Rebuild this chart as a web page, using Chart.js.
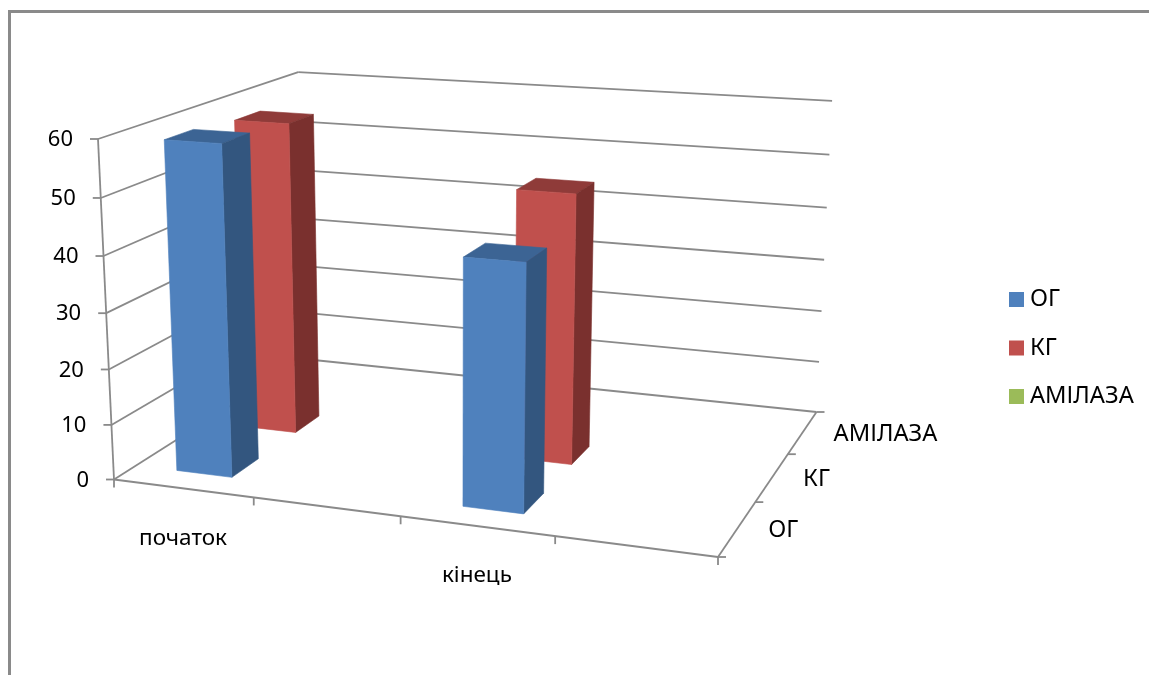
<!DOCTYPE html>
<html><head><meta charset="utf-8">
<style>html,body{margin:0;padding:0;background:#fff;overflow:hidden}canvas{display:block}</style>
<script src="https://cdn.jsdelivr.net/npm/chart.js@4"></script>
</head><body><canvas id="c" width="1149" height="675"></canvas>
<script>
const categories = ["початок", "", "кінець", ""];
const seriesNames = ["ОГ", "КГ", "АМІЛАЗА"];
const ogValues = [59, null, 43, null];
const kgValues = [58, null, 49, null];
const amylaseValues = [null, null, null, null];

const FONT = '"Noto Sans", sans-serif';
const GREY = '#8a8a8a';
const shades = [
  {front:'#4f81bd', side:'#33567f', top:'#3c6494'},
  {front:'#c0504d', side:'#7a302e', top:'#8f3b39'},
  {front:'#9bbb59', side:'#667a39', top:'#7a9343'}
];

/* Screen corners of the 3D box; u runs along categories, d into depth, v up the value axis */
const floorFL=[114,479.5], floorFR=[718,557], floorBR=[816.5,412], floorBL=[304,359];
const topFL=[98,139], topBL=[298.5,72], topBR=[832,101];

function buildProjection(){
  const [x0,y0]=floorFL,[x1,y1]=floorFR,[x2,y2]=floorBR,[x3,y3]=floorBL;
  const dx1=x1-x2,dx2=x3-x2,sx=x0-x1+x2-x3,dy1=y1-y2,dy2=y3-y2,sy=y0-y1+y2-y3;
  const det=dx1*dy2-dx2*dy1;
  const g=(sx*dy2-dx2*sy)/det,h=(dx1*sy-sx*dy1)/det;
  const a1=x1-x0+g*x1,a2=x3-x0+h*x3,a4=x0;
  const b1=y1-y0+g*y1,b2=y3-y0+h*y3,b4=y0;
  const X0=topFL[0],Y0=topFL[1];
  const eqs=[
    [X0-topBL[0], topBL[0]*(h+1)-a2-X0],
    [Y0-topBL[1], topBL[1]*(h+1)-b2-Y0],
    [X0-topBR[0], topBR[0]*(g+h+1)-a1-a2-X0],
    [Y0-topBR[1], topBR[1]*(g+h+1)-b1-b2-Y0]
  ];
  let n=0,m=0; eqs.forEach(e=>{n+=e[0]*e[1];m+=e[0]*e[0];});
  const i=n/m, a3=X0*(1+i)-a4, b3=Y0*(1+i)-b4;
  return (u,d,v)=>{const w=g*u+h*d+i*v+1;
    return [(a1*u+a2*d+a3*v+a4)/w,(b1*u+b2*d+b3*v+b4)/w];};
}
const project=buildProjection();

function poly(ctx,pts,fill){
  ctx.beginPath();pts.forEach((p,i)=>i?ctx.lineTo(p[0],p[1]):ctx.moveTo(p[0],p[1]));ctx.closePath();
  ctx.fillStyle=fill;ctx.fill();ctx.strokeStyle=fill;ctx.lineWidth=0.6;ctx.stroke();
}
function seg(ctx,a,b){ctx.beginPath();ctx.moveTo(a[0],a[1]);ctx.lineTo(b[0],b[1]);ctx.stroke();}
const off=(p,dx,dy)=>[p[0]+dx,p[1]+dy];

const box3d={
  id:'box3d',
  beforeDraw(chart){
    const c=chart.ctx;c.save();
    c.strokeStyle=GREY;c.lineWidth=3;c.beginPath();c.moveTo(9.5,675);c.lineTo(9.5,11.5);c.lineTo(1149,11.5);c.stroke();
    c.restore();
  },
  beforeDatasetsDraw(chart){
    const c=chart.ctx,y=chart.scales.y,x=chart.scales.x;
    c.save();c.strokeStyle=GREY;c.lineWidth=1.8;c.lineCap='butt';
    y.ticks.forEach(t=>{
      const v=(y.bottom-y.getPixelForValue(t.value))/y.height;
      const front=project(0,0,v),back=project(0,1,v),right=project(1,1,v);
      seg(c,front,back);seg(c,back,right);seg(c,off(front,-8,0),front);
    });
    seg(c,project(0,0,0),project(0,0,1));
    seg(c,project(0,0,0),project(1,0,0));
    seg(c,project(1,0,0),project(1,1,0));
    x.ticks.forEach((t,i)=>{const p=project(i/x.ticks.length,0,0);seg(c,p,off(p,0,8));});
    const p=project(1,0,0);seg(c,p,off(p,0,8));
    for(let k=0;k<=seriesNames.length;k++){const q=project(1,k/seriesNames.length,0);seg(c,q,off(q,8,0));}
    c.restore();
  },
  beforeDatasetDraw(chart,args){
    const c=chart.ctx,k=args.index,x=chart.scales.x,y=chart.scales.y,n=seriesNames.length,s=shades[k];
    const d0=(k+0.3)/n,d1=(k+0.7)/n,values=chart.data.datasets[k].data;
    args.meta.data.forEach((el,idx)=>{
      if(values[idx]==null)return;
      const u0=(el.x-el.width/2-x.left)/x.width,u1=(el.x+el.width/2-x.left)/x.width;
      const v=(y.bottom-el.y)/y.height;
      poly(c,[project(u0,d0,v),project(u1,d0,v),project(u1,d1,v),project(u0,d1,v)],s.top);
      poly(c,[project(u1,d0,0),project(u1,d1,0),project(u1,d1,v),project(u1,d0,v)],s.side);
      poly(c,[project(u0,d0,0),project(u1,d0,0),project(u1,d0,v),project(u0,d0,v)],s.front);
    });
    return false;
  },
  afterDraw(chart){
    const c=chart.ctx,x=chart.scales.x,y=chart.scales.y;
    c.save();c.fillStyle='#000';c.font='22px '+FONT;c.textBaseline='middle';
    c.textAlign='right';
    y.ticks.forEach(t=>{
      const v=(y.bottom-y.getPixelForValue(t.value))/y.height;
      const p=project(0,0,v);c.fillText(String(t.value),p[0]-25,p[1]+1);
    });
    c.font='22.5px '+FONT;
    c.textAlign='center';
    categories.forEach((label,i)=>{
      if(!label)return;
      const u=(x.getPixelForValue(i)-x.left)/x.width;
      const p=project(u,0,0);c.fillText(label,p[0],p[1]+50);
    });
    c.font='23.7px '+FONT;
    c.textAlign='left';
    seriesNames.forEach((label,k)=>{
      const p=project(1,(k+0.5)/seriesNames.length,0);c.fillText(label,p[0]+31,p[1]+2);
    });
    seriesNames.forEach((label,k)=>{
      const cy=299.5+k*48.5;
      c.fillStyle=shades[k].front;c.fillRect(1009,cy-7.5,15,15);
      c.fillStyle='#000';c.fillText(label,1030,cy);
    });
    c.restore();
  }
};

new Chart(document.getElementById('c'),{
  type:'bar',
  data:{labels:categories,datasets:[
    {label:seriesNames[0],data:ogValues,backgroundColor:shades[0].front},
    {label:seriesNames[1],data:kgValues,backgroundColor:shades[1].front},
    {label:seriesNames[2],data:amylaseValues,backgroundColor:shades[2].front}
  ]},
  options:{
    responsive:false,animation:false,devicePixelRatio:1,
    layout:{padding:{left:114,right:300,top:139,bottom:195.5}},
    datasets:{bar:{grouped:false,barPercentage:0.4,categoryPercentage:1}},
    plugins:{legend:{display:false},tooltip:{enabled:false}},
    scales:{
      x:{display:false,ticks:{autoSkip:false}},
      y:{display:false,min:0,max:60,ticks:{stepSize:10}}
    }
  },
  plugins:[box3d]
});
</script></body></html>
